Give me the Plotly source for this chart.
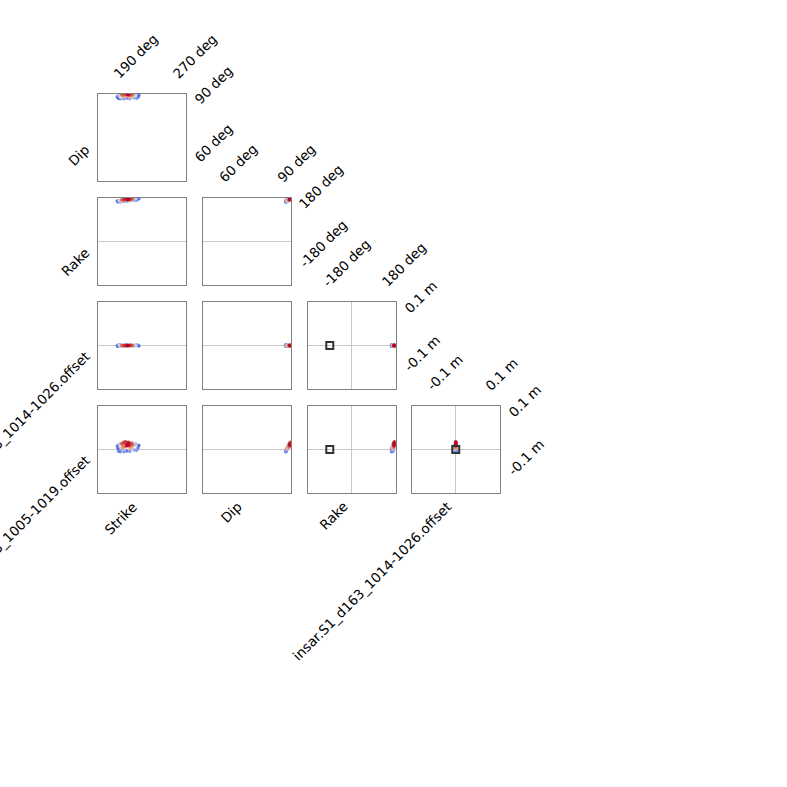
import plotly.graph_objects as go

# ---------------- data ----------------
param_names = ["Strike", "Dip", "Rake",
               "insar.S1_d163_1014-1026.offset",
               "insar.S1_d163_1005-1019.offset"]
param_ranges = [[170, 288], [52, 97], [-265, 265], [-0.15, 0.15], [-0.15, 0.15]]
tick_vals = [[190, 270], [60, 90], [-180, 180], [-0.1, 0.1], [-0.1, 0.1]]
tick_text = [["190 deg", "270 deg"], ["60 deg", "90 deg"],
             ["-180 deg", "180 deg"], ["-0.1 m", "0.1 m"], ["-0.1 m", "0.1 m"]]

strike = [197, 198, 196, 200, 224, 225, 222, 205, 213, 219, 198, 221, 201, 209,
          200, 203, 216, 220, 207, 212, 218, 199, 204, 214, 210, 221, 201, 215,
          203, 206, 209, 212, 215, 208, 211, 205, 217, 202, 213, 210, 207, 214, 204, 216, 208, 211]
dip = [95.0, 94.7, 95.6, 94.6, 95.3, 96.2, 94.8, 94.5, 94.6, 95.0, 96.3, 96.8, 95.2, 94.9,
       95.6, 95.9, 96.0, 95.8, 95.4, 95.7, 96.5, 96.1, 96.6, 95.5, 96.2, 96.4, 95.3, 95.2,
       96.3, 96.8, 97.2, 96.5, 97.0, 96.0, 97.5, 97.4, 96.7, 96.9, 96.2, 96.9, 97.8, 97.6, 96.4, 96.3, 97.0, 96.6]
rake = [242, 244, 246, 241, 258, 262, 252, 245, 248, 250, 249, 264, 243, 247,
        249, 251, 256, 259, 250, 253, 260, 248, 255, 252, 257, 263, 247, 251,
        252, 255, 257, 256, 259, 253, 260, 256, 261, 254, 255, 258, 262, 263, 253, 258, 257, 256]
off1 = [-0.003, 0.002, -0.001, 0.003, 0.001, -0.002, 0.002, -0.003, 0.001, -0.001, 0.002, 0.000, -0.002, 0.003,
        -0.001, 0.001, -0.002, 0.002, 0.000, -0.001, 0.001, 0.002, -0.002, 0.001, 0.000, -0.001, 0.001, -0.002,
        0.000, 0.001, -0.001, 0.000, 0.001, -0.001, 0.000, 0.001, -0.001, 0.000, 0.001, -0.001, 0.000, 0.000, -0.001, 0.001, 0.000, 0.000]
off2 = [0.004, -0.006, 0.012, -0.008, 0.006, 0.014, -0.003, -0.008, -0.007, -0.002, 0.016, 0.020, 0.001, -0.005,
        0.010, 0.014, 0.012, 0.018, 0.006, 0.009, 0.024, 0.020, 0.026, 0.004, 0.021, 0.013, 0.008, 0.003,
        0.016, 0.020, 0.018, 0.014, 0.022, 0.011, 0.025, 0.024, 0.017, 0.021, 0.010, 0.015, 0.027, 0.019, 0.008, 0.012, 0.013, 0.020]
score = [0.05, 0.10, 0.08, 0.15, 0.12, 0.03, 0.20, 0.18, 0.22, 0.25, 0.28, 0.30, 0.26, 0.09,
         0.45, 0.55, 0.50, 0.40, 0.62, 0.58, 0.48, 0.42, 0.66, 0.70, 0.52, 0.44, 0.60, 0.68,
         0.80, 0.85, 0.90, 0.95, 0.88, 0.78, 0.98, 0.92, 0.83, 0.87, 0.76, 1.00, 0.94, 0.91, 0.81, 0.79, 0.97, 0.99]

# reference model (None = not shown)
reference = [None, None, -133, 0.0, 0.0]

samples = [strike, dip, rake, off1, off2]

coolwarm = [[0.0, "#3b4cc0"], [0.15, "#6282ea"], [0.3, "#8db0fe"], [0.45, "#c5d6f2"],
            [0.5, "#dddddd"], [0.6, "#f2cbb7"], [0.72, "#f4a384"], [0.86, "#dd5f4b"],
            [1.0, "#b40426"]]

# ---------------- layout geometry ----------------
W = H = 787
col_left = [98, 203, 308, 412]
col_w = 87.5
row_top = [94, 198, 302, 406]
row_h = 87
FONT = dict(family="DejaVu Sans", size=13.5, color="black")
FRAME = "#808080"
ZERO = "#c8c8c8"

# order points so best (red) drawn last
order = sorted(range(len(score)), key=lambda i: score[i])

fig = go.Figure()
annotations = []
layout = {}
n = 0
for r in range(4):
    ypar = r + 1
    for c in range(r + 1):
        xpar = c
        n += 1
        sfx = "" if n == 1 else str(n)
        xd = [col_left[c] / W, (col_left[c] + col_w) / W]
        yd = [1 - (row_top[r] + row_h) / H, 1 - row_top[r] / H]
        common = dict(showticklabels=False, ticks="", showgrid=False,
                      zeroline=True, zerolinecolor=ZERO, zerolinewidth=1,
                      showline=True, mirror=True, linecolor=FRAME, linewidth=1,
                      fixedrange=True)
        layout["xaxis" + sfx] = dict(domain=xd, range=param_ranges[xpar],
                                     anchor="y" + sfx, **common)
        layout["yaxis" + sfx] = dict(domain=yd, range=param_ranges[ypar],
                                     anchor="x" + sfx, **common)
        fig.add_trace(go.Scatter(
            x=[samples[xpar][i] for i in order],
            y=[samples[ypar][i] for i in order],
            mode="markers", xaxis="x" + sfx, yaxis="y" + sfx,
            marker=dict(size=3.5, color=[score[i] for i in order],
                        colorscale=coolwarm, cmin=0, cmax=1, opacity=0.9,
                        line=dict(width=0)),
            cliponaxis=True, hoverinfo="skip"))
        if reference[xpar] is not None and reference[ypar] is not None:
            fig.add_trace(go.Scatter(
                x=[reference[xpar]], y=[reference[ypar]], mode="markers",
                xaxis="x" + sfx, yaxis="y" + sfx,
                marker=dict(symbol="square-open", size=7, color="#2e3436",
                            line=dict(width=2, color="#2e3436")),
                hoverinfo="skip"))
        if c == r:
            # x tick labels on top
            for v, t in zip(tick_vals[xpar], tick_text[xpar]):
                annotations.append(dict(
                    x=v, xref="x" + sfx, y=1, yref="y" + sfx + " domain",
                    text=t, showarrow=False, textangle=-45,
                    xanchor="left", yanchor="bottom", xshift=-4, yshift=11,
                    font=FONT, borderpad=0))
            # y tick labels on right
            for v, t in zip(tick_vals[ypar], tick_text[ypar]):
                annotations.append(dict(
                    x=1, xref="x" + sfx + " domain", y=v, yref="y" + sfx,
                    text=t, showarrow=False, textangle=-45,
                    xanchor="left", yanchor="bottom", xshift=4, yshift=-1,
                    font=FONT, borderpad=0))

# parameter names
for r in range(4):
    yc = row_top[r] + row_h / 2 + 2
    annotations.append(dict(
        x=94 / W, xref="paper", y=1 - yc / H, yref="paper",
        text=param_names[r + 1], showarrow=False, textangle=-45,
        xanchor="right", yanchor="top", font=FONT, borderpad=0))
for c in range(4):
    xc = col_left[c] + col_w / 2
    annotations.append(dict(
        x=xc / W, xref="paper", y=1 - 497 / H, yref="paper",
        text=param_names[c], showarrow=False, textangle=-45,
        xanchor="right", yanchor="top", font=FONT, borderpad=0))

fig.update_layout(width=W, height=H, margin=dict(l=0, r=0, t=0, b=0),
                  paper_bgcolor="white", plot_bgcolor="white",
                  showlegend=False, annotations=annotations, font=FONT,
                  **layout)
fig.write_html("out.html")
